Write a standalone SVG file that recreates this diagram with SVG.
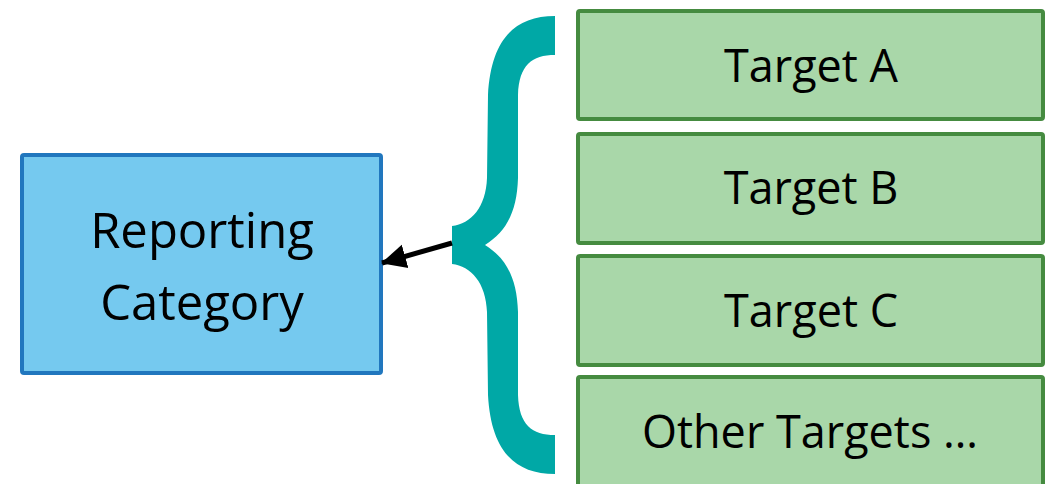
<svg xmlns="http://www.w3.org/2000/svg" width="1049" height="484" viewBox="0 0 1049 484">
  <style>
    .lbl { font-family: "Open Sans", "Noto Sans", "Liberation Sans", sans-serif; font-size: 45px; fill: #000; text-anchor: middle; }
    .big { font-size: 49px; }
    .cat { fill: #75C9EF; stroke: #2177BE; stroke-width: 4; }
    .tgt { fill: #A9D7A9; stroke: #458B40; stroke-width: 4; }
    .brace { fill: #00A8A6; }
    .link { stroke: #000; stroke-width: 5; fill: none; }
  </style>
  <defs>
    <marker id="arrowhead" markerUnits="userSpaceOnUse" markerWidth="26" markerHeight="26" viewBox="0 0 26 26" refX="24" refY="13" orient="auto">
      <path d="M0,1 L25,13 L0,25 Z" fill="#000"/>
    </marker>
  </defs>

  <g id="reporting-category">
    <rect class="cat" x="22" y="155" width="359" height="218" rx="2"/>
    <text class="lbl big" x="202" y="248">Reporting</text>
    <text class="lbl big" x="202" y="320">Category</text>
  </g>

  <g id="brace">
    <path class="brace" d="M555,16 C514,16 491,40 488,95 L487,178 C486,207 471,224 452,226 L452,264 C471,266 486,283 487,312 L488,395 C491,450 514,474 555,474 L555,435 C532,435 519,425 518,395 L518,312 C517,278 506,258 485,245 C506,232 517,212 518,178 L518,95 C519,65 532,55 555,55 Z"/>
  </g>

  <g id="target-a">
    <rect class="tgt" x="578" y="11" width="465" height="108" rx="2"/>
    <text class="lbl" x="811" y="82">Target A</text>
  </g>
  <g id="target-b">
    <rect class="tgt" x="578" y="134" width="465" height="109" rx="2"/>
    <text class="lbl" x="811" y="204">Target B</text>
  </g>
  <g id="target-c">
    <rect class="tgt" x="578" y="256" width="465" height="109" rx="2"/>
    <text class="lbl" x="811" y="327">Target C</text>
  </g>
  <g id="target-other">
    <rect class="tgt" x="578" y="377" width="465" height="110" rx="2"/>
    <text class="lbl" x="810" y="448">Other Targets …</text>
  </g>

  <g id="connectors">
    <line class="link" x1="452" y1="243" x2="382" y2="263" marker-end="url(#arrowhead)"/>
  </g>
</svg>
